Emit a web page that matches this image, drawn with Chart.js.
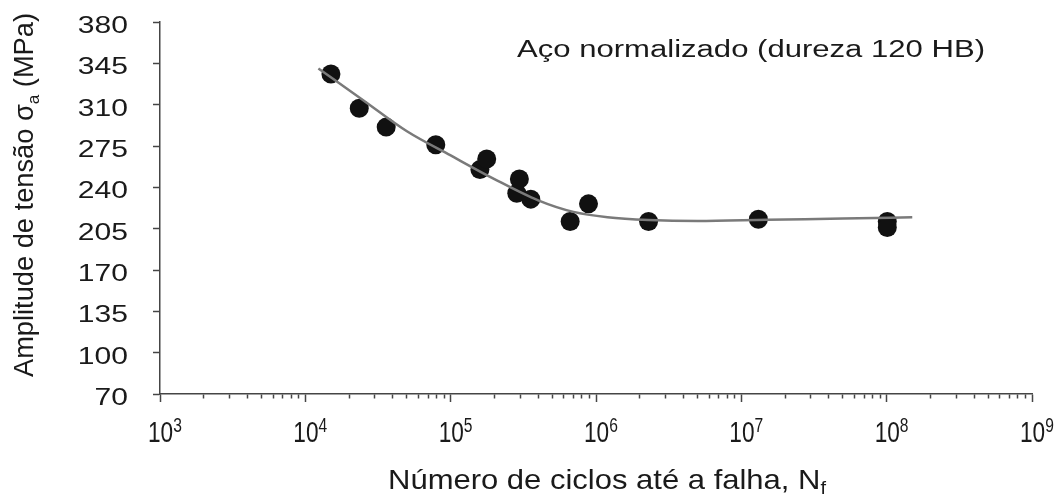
<!DOCTYPE html>
<html>
<head>
<meta charset="utf-8">
<script src="https://cdn.jsdelivr.net/npm/chart.js@4.4.1/dist/chart.umd.min.js"></script>
<style>
  html, body { margin: 0; padding: 0; background: #fff; }
  #wrap { width: 1064px; height: 494px; }
</style>
</head>
<body>
<div id="wrap"><canvas id="sn"></canvas></div>
<script>
// pontos dos ensaios: numero de ciclos ate a falha e amplitude de tensao (MPa)
const testCycles = [15000, 23500, 36000, 79000, 159000, 177000, 285000, 297000, 356000, 664000, 888000, 2300000, 13100000, 101000000, 101000000];
const testStress = [336, 307, 291, 276, 255, 264, 235, 247, 230, 211, 226, 211, 213, 211, 206];

// curva ajustada
const fitCycles = [12300, 25000, 50000, 100000, 200000, 400000, 700000, 1200000, 2300000, 5000000, 15000000, 50000000, 150000000];
const fitStress = [340.6, 313.8, 287.5, 267, 247, 229, 219.2, 214.7, 212.3, 211.4, 212.5, 213.6, 214.7];

// eixos
const decadeExps = [3, 4, 5, 6, 7, 8, 9];
const decadeBase = '10';
const decadeSup = ['3', '4', '5', '6', '7', '8', '9'];
const yTickValues = [380, 345, 310, 275, 240, 205, 170, 135, 100, 65];
const yTickLabels = ['380', '345', '310', '275', '240', '205', '170', '135', '100', '70'];

const annotationText = 'Aço normalizado (dureza 120 HB)';
const xTitle = ['Número de ciclos até a falha, N', 'f'];
const yTitle = ['Amplitude de tensão σ', 'a', ' (MPa)'];

const TEXT = '#1a1a1a';
const AXIS = '#454545';
const SANS = "'Liberation Sans', Arial, sans-serif";

// desenha pedacos de texto (com sub/sobrescritos); largura alvo ou fator sx
function drawPieces(ctx, pieces, x, y, o) {
  ctx.save();
  ctx.translate(x, y);
  ctx.rotate(o.angle || 0);
  let total = 0;
  pieces.forEach(p => {
    ctx.font = p.size + 'px ' + SANS;
    total += ctx.measureText(p.t).width;
  });
  const sx = o.width ? o.width / total : (o.sx || 1);
  let start = 0;
  if (o.align === 'center') start = -total / 2;
  if (o.align === 'right') start = -total;
  ctx.scale(sx, 1);
  ctx.fillStyle = TEXT;
  ctx.textBaseline = 'alphabetic';
  ctx.textAlign = 'left';
  let cx = start;
  pieces.forEach(p => {
    ctx.font = p.size + 'px ' + SANS;
    ctx.fillText(p.t, cx, p.dy || 0);
    cx += ctx.measureText(p.t).width;
  });
  ctx.restore();
}

const textos = {
  id: 'textos',
  afterDraw(chart) {
    const ctx = chart.ctx;
    const xs = chart.scales.x, ys = chart.scales.y;
    // rotulos do eixo y
    yTickValues.forEach((v, i) => {
      drawPieces(ctx, [{t: yTickLabels[i], size: 23.3}], 128, ys.getPixelForValue(v) + 11, {sx: 1.29, align: 'right'});
    });
    // rotulos do eixo x (10 com expoente)
    decadeExps.forEach((e, i) => {
      const px = xs.getPixelForValue(Math.pow(10, e));
      drawPieces(ctx, [{t: decadeBase, size: 29}, {t: decadeSup[i], size: 20, dy: -10}], px - 12, 442, {sx: 0.78});
    });
    drawPieces(ctx, [{t: annotationText, size: 23.5}], 517, 57, {width: 468});
    drawPieces(ctx, [{t: xTitle[0], size: 28}, {t: xTitle[1], size: 18, dy: 5}], 388, 489, {width: 438});
    drawPieces(ctx, [{t: yTitle[0], size: 27}, {t: yTitle[1], size: 17, dy: 6}, {t: yTitle[2], size: 27}], 33, 195, {width: 364, angle: -Math.PI / 2, align: 'center'});
  }
};

const ctx = document.getElementById('sn').getContext('2d');
new Chart(ctx, {
  type: 'scatter',
  data: {
    datasets: [
      {
        label: 'curva',
        type: 'line',
        data: fitCycles.map((n, i) => ({x: n, y: fitStress[i]})),
        borderColor: '#7a7a7a',
        borderWidth: 2.5,
        pointRadius: 0,
        fill: false,
        cubicInterpolationMode: 'monotone',
        order: 0
      },
      {
        label: 'ensaios',
        data: testCycles.map((n, i) => ({x: n, y: testStress[i]})),
        backgroundColor: '#111',
        borderColor: '#111',
        borderWidth: 0,
        pointRadius: 9.5,
        order: 1
      }
    ]
  },
  options: {
    responsive: true,
    maintainAspectRatio: false,
    animation: false,
    devicePixelRatio: 1,
    layout: { padding: { top: 22, right: 32, left: 0, bottom: 0 } },
    plugins: { legend: { display: false }, tooltip: { enabled: false } },
    scales: {
      x: {
        type: 'logarithmic',
        position: 'bottom',
        min: 1e3,
        max: 1e9,
        afterFit: s => { s.height = 100; },
        afterBuildTicks: s => {
          const t = [];
          decadeExps.forEach(e => {
            if (e === 9) { t.push({value: 1e9, major: true}); return; }
            for (let m = 1; m <= 9; m++) t.push({value: m * Math.pow(10, e), major: m === 1});
          });
          s.ticks = t;
        },
        grid: {
          drawOnChartArea: false,
          drawTicks: true,
          tickLength: 8,
          tickColor: AXIS,
          tickWidth: 1.5,
          tickBorderDash: c => (c.tick && !c.tick.major) ? [4, 20] : []
        },
        border: { display: true, color: AXIS, width: 1.5 },
        ticks: { display: false, autoSkip: false, maxRotation: 0, minRotation: 0 }
      },
      y: {
        min: 65,
        max: 380,
        afterFit: s => { s.width = 160; },
        afterBuildTicks: s => { s.ticks = yTickValues.map(v => ({value: v})); },
        grid: {
          drawOnChartArea: false,
          drawTicks: true,
          tickLength: 7,
          tickColor: AXIS,
          tickWidth: 1.5
        },
        border: { display: true, color: AXIS, width: 1.5 },
        ticks: { display: false }
      }
    }
  },
  plugins: [textos]
});
</script>
</body>
</html>
